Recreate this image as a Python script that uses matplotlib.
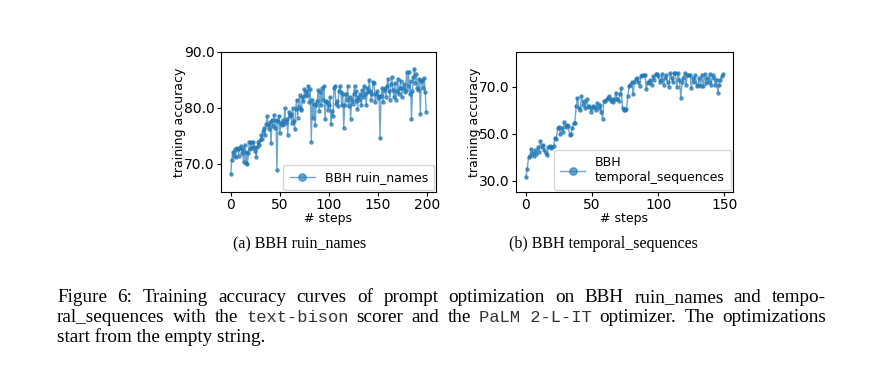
import numpy as np
import matplotlib.pyplot as plt
from matplotlib.ticker import FormatStrFormatter

# training accuracy per step
ruin_acc = [
    68.2, 70.7, 72.2, 71.4, 72.6, 71.2, 72.9, 72.6, 71.5, 72.9,
    73.2, 72.0, 72.6, 70.4, 73.4, 70.2, 72.1, 70.0, 71.9, 74.0,
    72.6, 73.9, 72.9, 74.0, 73.1, 72.3, 71.3, 73.0, 73.9, 73.4,
    74.2, 75.2, 74.4, 75.9, 76.4, 75.1, 77.2, 78.5, 76.9, 76.3,
    77.5, 73.7, 77.9, 76.8, 78.8, 76.5, 77.9, 68.9, 77.6, 78.6,
    75.6, 77.4, 76.9, 77.8, 77.2, 80.0, 77.5, 78.0, 75.2, 79.3,
    78.5, 78.9, 77.3, 80.0, 77.6, 76.2, 79.8, 81.5, 78.3, 80.2,
    82.3, 79.8, 79.6, 82.0, 81.2, 83.4, 82.2, 83.0, 82.3, 84.0,
    81.0, 83.4, 74.0, 81.5, 78.2, 80.8, 77.0, 80.6, 81.2, 83.2,
    79.5, 82.8, 80.5, 83.5, 81.5, 83.9, 78.0, 81.3, 81.0, 79.7,
    80.5, 82.0, 77.2, 79.5, 78.5, 83.5, 84.0, 80.7, 81.2, 80.3,
    83.0, 84.0, 82.8, 80.5, 82.5, 76.5, 80.5, 82.5, 81.5, 84.0,
    80.4, 82.0, 78.0, 81.5, 80.8, 82.5, 84.0, 81.2, 83.0, 79.8,
    82.0, 81.5, 82.5, 80.5, 83.2, 82.0, 84.0, 82.5, 80.5, 83.5,
    82.8, 85.0, 83.0, 81.5, 82.5, 84.7, 84.5, 81.0, 82.5, 83.0,
    81.8, 82.2, 74.6, 82.2, 83.5, 81.0, 83.2, 83.5, 82.0, 84.0,
    85.2, 83.0, 81.5, 84.2, 85.5, 83.2, 82.0, 84.5, 81.5, 83.0,
    85.2, 82.5, 83.5, 84.8, 82.0, 83.5, 84.2, 82.8, 83.2, 86.4,
    84.0, 86.4, 82.5, 84.8, 78.0, 83.0, 85.5, 87.0, 84.5, 86.0,
    83.5, 83.2, 85.2, 79.0, 84.8, 85.0, 83.5, 85.3, 82.8, 79.3,
]

temporal_acc = [
    31.5, 35.0, 40.0, 40.5, 43.5, 42.0, 40.5, 43.0, 41.5, 44.5,
    42.5, 47.0, 44.5, 45.5, 43.0, 42.0, 41.0, 44.5, 45.0, 44.2,
    44.6, 45.0, 48.5, 47.8, 52.5, 53.0, 50.0, 52.5, 51.0, 55.0,
    53.0, 54.0, 53.5, 49.5, 50.0, 52.5, 54.5, 54.8, 62.0, 65.5,
    61.0, 60.0, 66.0, 62.5, 64.0, 61.0, 65.0, 61.5, 62.0, 59.5,
    61.0, 62.0, 61.5, 60.0, 63.0, 61.0, 62.5, 59.5, 56.5, 64.0,
    64.0, 65.0, 65.5, 66.0, 64.0, 65.0, 63.5, 65.0, 67.5, 65.0,
    64.0, 67.0, 69.5, 61.0, 60.0, 60.0, 60.5, 66.0, 70.5, 71.0,
    72.0, 67.0, 72.0, 73.5, 74.0, 72.0, 70.5, 74.5, 75.0, 75.0,
    75.0, 69.0, 72.0, 71.5, 73.0, 71.0, 74.5, 73.0, 75.5, 75.5,
    74.5, 72.0, 73.0, 75.5, 71.0, 74.0, 75.0, 72.0, 70.0, 76.0,
    74.0, 72.0, 76.0, 76.0, 70.0, 76.0, 73.0, 65.5, 72.0, 74.0,
    76.0, 71.0, 75.0, 75.0, 75.0, 69.5, 74.0, 72.0, 75.0, 70.5,
    71.0, 74.0, 70.5, 75.0, 70.5, 75.5, 71.5, 74.0, 72.0, 75.5,
    71.0, 75.0, 74.0, 71.0, 73.0, 67.5, 71.0, 73.0, 74.5, 75.5,
]

sub_captions = ["(a) BBH ruin_names", "(b) BBH temporal_sequences"]

W, H = 894, 371
fig = plt.figure(figsize=(W / 100, H / 100), dpi=100)

ax1 = fig.add_axes([221 / W, 1 - 192 / H, 215 / W, 140 / H])
ax2 = fig.add_axes([516 / W, 1 - 192 / H, 217 / W, 140 / H])

line_kw = dict(color="#1f77b4", alpha=0.65, linewidth=1.0, marker="o", markersize=2.3)
leg_kw = dict(loc="lower right", fontsize=9, markerscale=2.3, borderpad=0.5,
              borderaxespad=0.15, handletextpad=0.8)

ax1.plot(np.arange(len(ruin_acc)), ruin_acc, label="BBH ruin_names", **line_kw)
ax1.set_ylim(65, 90)
ax1.set_yticks([70, 80, 90])
ax1.set_xticks([0, 50, 100, 150, 200])
ax1.legend(**leg_kw)

ax2.plot(np.arange(len(temporal_acc)), temporal_acc, label="BBH\ntemporal_sequences", **line_kw)
ax2.set_ylim(25.3, 84.9)
ax2.set_yticks([30, 50, 70])
ax2.set_xticks([0, 50, 100, 150])
ax2.legend(**leg_kw)

for ax in (ax1, ax2):
    ax.yaxis.set_major_formatter(FormatStrFormatter("%.1f"))
    ax.tick_params(labelsize=10, pad=1.5, length=3)
    ax.set_xlabel("# steps", fontsize=9, labelpad=0)
    ax.set_ylabel("training accuracy", fontsize=9, labelpad=-1.5)

serif = "Liberation Serif"
mono = "Liberation Mono"
cap_size = 13.8

fig.text(300 / W, 1 - 244 / H, sub_captions[0], family=serif, fontsize=11.5, ha="center", va="center")
fig.text(603 / W, 1 - 244 / H, sub_captions[1], family=serif, fontsize=11.5, ha="center", va="center")


def justify(tokens, x0, x1, y):
    # place words so the line fills x0..x1 (pixels)
    r = fig.canvas.get_renderer()
    texts = []
    for w, f in tokens:
        size = 12.3 if f == mono else cap_size
        color = "#333333" if f == mono else "black"
        texts.append(fig.text(0, 1 - y / H, w, family=f, fontsize=size, color=color, va="baseline"))
    widths = [t.get_window_extent(r).width for t in texts]
    gap = (x1 - x0 - sum(widths)) / (len(texts) - 1)
    x = x0
    for t, w in zip(texts, widths):
        t.set_x(x / W)
        x += w + gap


line1 = "Figure 6:  Training accuracy curves of prompt optimization on BBH ruin_names and tempo-".split(" ")
line1 = [w for w in line1 if w]
justify([(w, serif) for w in line1], 57, 826, 302)

line2 = [("ral_sequences", serif), ("with", serif), ("the", serif), ("text-bison", mono),
         ("scorer", serif), ("and", serif), ("the", serif), ("PaLM 2-L-IT", mono),
         ("optimizer.", serif), ("The", serif), ("optimizations", serif)]
justify(line2, 57, 826, 322)

fig.text(57 / W, 1 - 342 / H, "start from the empty string.", family=serif, fontsize=cap_size, va="baseline")

fig.savefig("out.png", dpi=100)
